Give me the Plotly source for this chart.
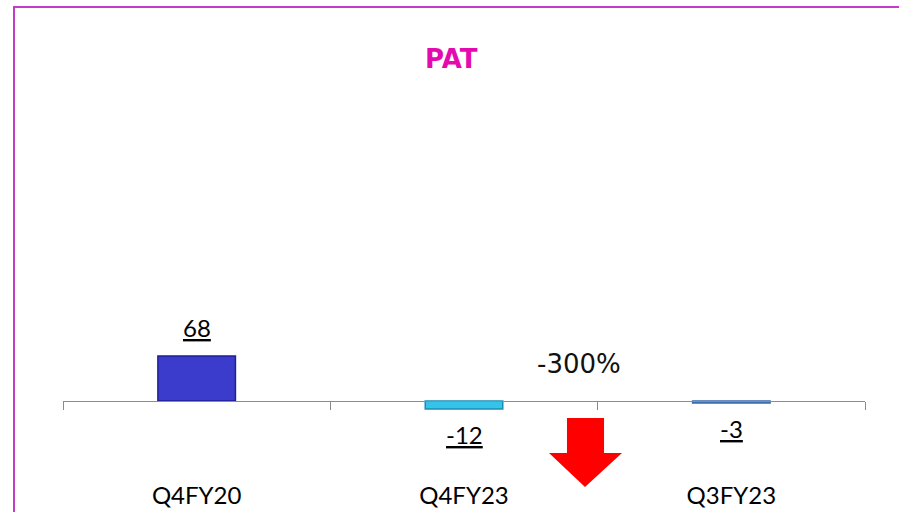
import plotly.graph_objects as go

# PAT chart data
categories = ["Q4FY20", "Q4FY23", "Q3FY23"]
values = [68, -12, -3]
value_labels = ["68", "-12", "-3"]
change_label = "-300%"

bar_colors = ["#3b3bcc", "#35c3ea", "#4a80c4"]
bar_edges = ["#1f1f96", "#1c8db5", "#3a6aa8"]

W, H = 899, 512
M_L, M_R, M_T, M_B = 63, 34, 100, 32
PLOT_W = W - M_L - M_R
PLOT_H = H - M_T - M_B
ZERO_PX = 401          # pixel row of the zero line
PX_PER_UNIT = 45 / 68  # bar of 68 is ~45 px tall
Y_TOP = (ZERO_PX - M_T) / PX_PER_UNIT
Y_BOT = -(H - M_B - ZERO_PX) / PX_PER_UNIT
ZERO_POS = (H - M_B - ZERO_PX) / PLOT_H


def px_to_paper(x, y):
    return (x - M_L) / PLOT_W, (H - M_B - y) / PLOT_H


fig = go.Figure(go.Bar(
    x=categories,
    y=values,
    marker_color=bar_colors,
    marker_line_color=bar_edges,
    marker_line_width=1.5,
    hoverinfo="skip",
))

# underlined data labels above / below the bars
for cat, v, lab in zip(categories, values, value_labels):
    fig.add_annotation(
        x=cat, y=v, text="<u>" + lab + "</u>", showarrow=False,
        yanchor="middle", yshift=29 if v >= 0 else -26,
        font=dict(family="Lato, sans-serif", size=24, color="#000000"),
    )

fig.add_annotation(
    x=1.43, y=56, text=change_label, showarrow=False,
    font=dict(family="DejaVu Sans, sans-serif", size=26, color="#111111"),
)

# red down arrow
arrow = [(567, 418), (604, 418), (604, 453), (622, 453), (585, 487),
         (549, 453), (567, 453)]
pts = [px_to_paper(x, y) for x, y in arrow]
path = "M " + " L ".join(f"{x:.4f},{y:.4f}" for x, y in pts) + " Z"
fig.add_shape(type="path", path=path, xref="paper", yref="paper",
              fillcolor="#ff0000", line=dict(width=0))

# magenta frame (top and left edges visible)
x0, y0 = px_to_paper(14, 7)
x1, y1 = px_to_paper(W + 10, H + 10)
fig.add_shape(type="rect", xref="paper", yref="paper", x0=x0, y0=y1, x1=x1, y1=y0,
              line=dict(color="#c23cc8", width=2), fillcolor="rgba(0,0,0,0)")

fig.update_layout(
    width=W, height=H,
    title=dict(text="<b>PAT</b>", x=0.502, xanchor="center", y=1 - 59 / H, yanchor="middle",
               font=dict(family="DejaVu Sans, sans-serif", size=26, color="#e40ab0")),
    plot_bgcolor="#ffffff",
    paper_bgcolor="#ffffff",
    margin=dict(l=M_L, r=M_R, t=M_T, b=M_B, autoexpand=False),
    bargap=0.71,
    showlegend=False,
    xaxis=dict(
        type="category", range=[-0.5, 2.5],
        anchor="free", position=ZERO_POS, automargin=False,
        showline=True, linecolor="#8c8c8c", linewidth=1,
        ticks="outside", tickson="boundaries", ticklen=8, tickcolor="#8c8c8c",
        ticklabelstandoff=73,
        tickfont=dict(family="Lato, sans-serif", size=24, color="#000000"),
        showgrid=False, zeroline=False,
    ),
    yaxis=dict(range=[Y_BOT, Y_TOP], visible=False, showgrid=False, zeroline=False,
               automargin=False),
)

fig.write_html("out.html", config={"displayModeBar": False},
               post_script="document.body.style.margin='0';")
